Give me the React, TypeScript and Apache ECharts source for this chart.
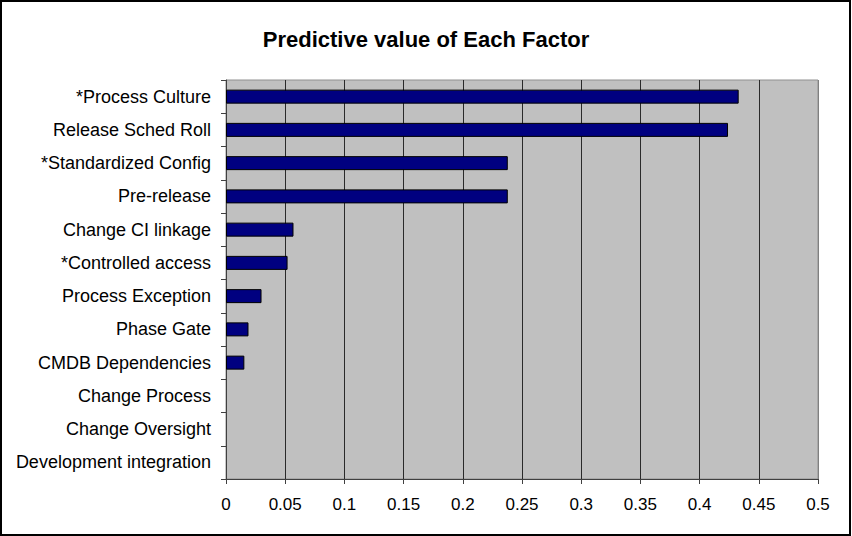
import React, { useEffect, useRef } from "react";
import * as echarts from "echarts";

const title = "Predictive value of Each Factor";
const categories = [
  "*Process Culture",
  "Release Sched Roll",
  "*Standardized Config",
  "Pre-release",
  "Change CI linkage",
  "*Controlled access",
  "Process Exception",
  "Phase Gate",
  "CMDB Dependencies",
  "Change Process",
  "Change Oversight",
  "Development integration",
];
const values = [0.433, 0.424, 0.238, 0.238, 0.057, 0.052, 0.03, 0.019, 0.0155, 0, 0, 0];
const xMin = 0;
const xMax = 0.5;
const xStep = 0.05;

export default function App() {
  const ref = useRef<HTMLDivElement>(null);
  useEffect(() => {
    if (!ref.current) return;
    const chart = echarts.init(ref.current, null, { renderer: "svg" });
    const font = "'Liberation Sans', Arial, sans-serif";
    const splitColors = Array.from({ length: 11 }, (_, i) => (i === 10 ? "#808080" : i === 0 ? "#404040" : "#2a2a2a"));
    chart.setOption({
      animation: false,
      backgroundColor: "#ffffff",
      title: {
        text: title,
        left: "center",
        top: 23,
        textStyle: { fontFamily: font, fontSize: 22, fontWeight: "bold", color: "#000" },
      },
      graphic: [
        {
          type: "rect",
          shape: { x: 1, y: 1, width: 849, height: 534 },
          style: { fill: "none", stroke: "#000", lineWidth: 2 },
          z: 100,
        },
      ],
      grid: {
        left: 226,
        right: 34,
        top: 80,
        bottom: 57,
        show: true,
        backgroundColor: "#C0C0C0",
        borderColor: "#909090",
        borderWidth: 1,
      },
      xAxis: {
        type: "value",
        min: xMin,
        max: xMax,
        interval: xStep,
        axisLine: { show: true, lineStyle: { color: "#404040", width: 1 } },
        axisTick: { show: true, length: 5, lineStyle: { color: "#404040" } },
        axisLabel: {
          margin: 17,
          fontFamily: font,
          fontSize: 17,
          color: "#000",
          formatter: (v: number) => String(Math.round(v * 100) / 100),
          showMinLabel: true,
          showMaxLabel: true,
        },
        splitLine: { show: true, lineStyle: { color: splitColors, width: 1 } },
      },
      yAxis: {
        type: "category",
        data: categories,
        inverse: true,
        axisLine: { show: true, lineStyle: { color: "#404040", width: 1 } },
        axisTick: { show: true, length: 5, lineStyle: { color: "#404040" } },
        axisLabel: { margin: 15, fontFamily: font, fontSize: 18, color: "#000", interval: 0 },
        splitLine: { show: false },
      },
      series: [
        {
          type: "bar",
          data: values.map((v) => (v === 0 ? { value: v, itemStyle: { borderWidth: 0, opacity: 0 } } : v)),
          barWidth: 14,
          itemStyle: { color: "#000080", borderColor: "#000000", borderWidth: 1 },
        },
      ],
    });
    return () => chart.dispose();
  }, []);
  return (
    <div
      ref={ref}
      style={{ position: "absolute", left: 0, top: 0, width: 852, height: 536 }}
    />
  );
}
